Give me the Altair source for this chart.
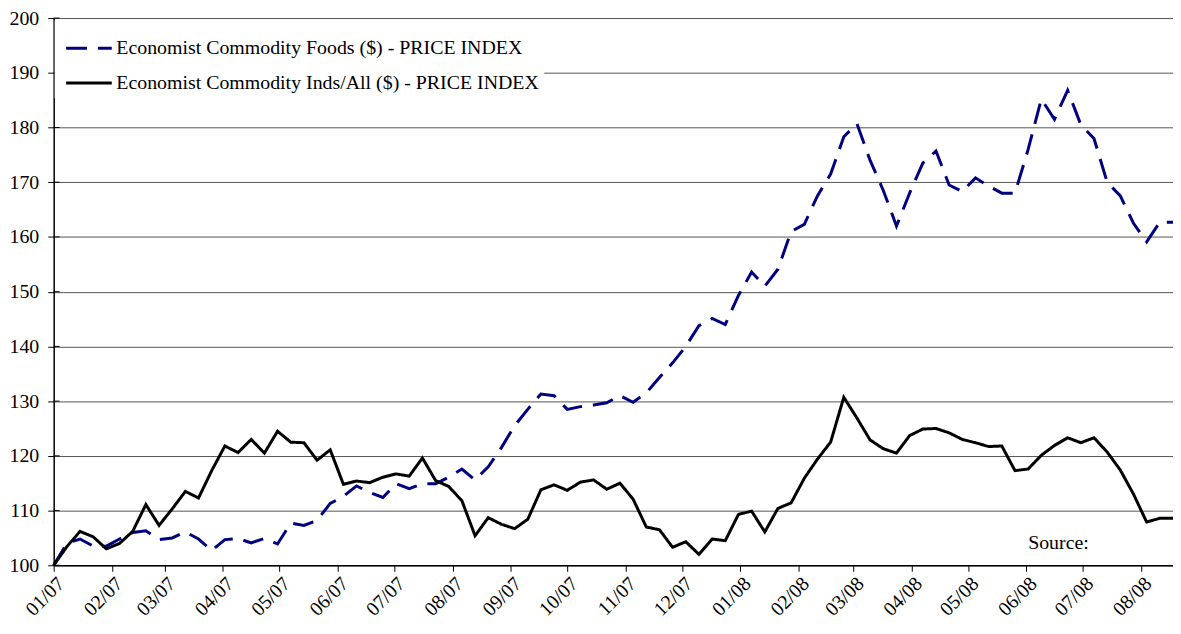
import altair as alt
import pandas as pd

# weekly observations (Mondays), Jan 2007 - Aug 2008
weeks = pd.date_range("2007-01-01", periods=86, freq="7D")

foods = [100.0, 104.0, 104.8, 103.5, 103.5, 104.8, 106.0, 106.3, 104.7, 105.0,
         106.1, 104.8, 102.7, 104.7, 104.9, 104.1, 104.9, 103.9, 107.7, 107.3,
         108.2, 111.3, 112.6, 114.5, 113.3, 112.4, 114.9, 114.0, 114.9, 114.9,
         116.1, 117.6, 115.6, 118.0, 121.5, 125.5, 128.5, 131.3, 131.0, 128.5,
         129.0, 129.3, 129.7, 131.0, 129.8, 131.5, 134.3, 137.0, 140.0, 143.8,
         145.1, 144.0, 149.3, 153.6, 151.0, 154.1, 161.0, 162.3, 167.5, 171.5,
         178.3, 180.7, 174.0, 168.5, 162.0, 168.0, 173.5, 175.7, 169.5, 168.3,
         170.8, 169.3, 168.0, 168.0, 176.0, 185.2, 181.5, 186.8, 180.5, 178.0,
         170.0, 167.5, 162.5, 159.1, 162.7, 162.7]

inds = [100.0, 103.4, 106.2, 105.2, 103.0, 104.0, 106.2, 111.1, 107.3, 110.3,
        113.5, 112.3, 117.3, 121.8, 120.6, 123.0, 120.5, 124.5, 122.5, 122.4,
        119.2, 121.1, 114.8, 115.4, 115.1, 116.1, 116.7, 116.3, 119.6, 115.5,
        114.4, 111.8, 105.4, 108.7, 107.5, 106.7, 108.4, 113.8, 114.7, 113.7,
        115.2, 115.6, 113.9, 115.0, 112.1, 107.0, 106.5, 103.3, 104.3, 102.0,
        104.8, 104.5, 109.3, 109.9, 106.1, 110.4, 111.4, 115.9, 119.4, 122.5,
        130.7, 126.9, 122.9, 121.3, 120.5, 123.7, 124.9, 125.0, 124.2, 123.0,
        122.4, 121.7, 121.8, 117.3, 117.6, 120.1, 121.9, 123.3, 122.4, 123.3,
        120.7, 117.4, 113.0, 107.9, 108.6, 108.6]

series_names = ["Economist Commodity Foods ($) - PRICE INDEX",
                "Economist Commodity Inds/All ($) - PRICE INDEX"]
series_colors = ["#000080", "#000000"]

month_ticks = pd.date_range("2007-01-01", "2008-08-01", freq="MS")
y_ticks = list(range(100, 201, 10))
x_domain = ["2007-01-01", "2008-08-18"]

source_text = ["Source:"]
source_date = ["2008-06-02"]
source_value = [104.1]

rows = []
for d, f, i in zip(weeks, foods, inds):
    ds = d.strftime("%Y-%m-%d")
    rows.append({"date": ds, "series": series_names[0], "value": f})
    rows.append({"date": ds, "series": series_names[1], "value": i})
df = pd.DataFrame(rows)

src = pd.DataFrame({"date": source_date, "value": source_value, "text": source_text})
ytick_df = pd.DataFrame({"value": y_ticks})

def ms(s):
    return int(pd.Timestamp(s).timestamp() * 1000)

tick_ms = [ms(t) for t in month_ticks]
dom_ms = [ms(t) for t in x_domain]

FONT = "Liberation Serif, Times New Roman, serif"

x_enc = alt.X(
    "date:T",
    scale=alt.Scale(type="utc", domain=dom_ms, nice=False),
    axis=alt.Axis(values=tick_ms, labelAngle=-45, grid=False, tickSize=6,
                  labelPadding=2, title=None, labelOverlap=False, labelFlush=False,
                  labelExpr="utcFormat(datum.value, '%m/%y')"),
)
y_scale = alt.Scale(domain=[100, 200], nice=False, zero=False)
y_enc = alt.Y(
    "value:Q",
    scale=y_scale,
    axis=alt.Axis(values=y_ticks, grid=True, gridColor="#555555", gridWidth=1,
                  tickSize=6, labelPadding=9, title=None),
)

legend = alt.Legend(
    title=None, orient="none", legendX=1, legendY=2, direction="vertical",
    fillColor="white", padding=4, symbolOffset=6, symbolType="stroke", symbolSize=2116,
    symbolStrokeWidth=3, labelFont=FONT, labelFontSize=20, labelColor="black",
    labelLimit=700, labelOffset=3, rowPadding=0, strokeColor="white",
)

lines = alt.Chart(df).mark_line(strokeWidth=3).encode(
    x=x_enc,
    y=y_enc,
    color=alt.Color("series:N", scale=alt.Scale(domain=series_names, range=series_colors),
                    legend=legend, sort=series_names),
    strokeDash=alt.StrokeDash("series:N",
                              scale=alt.Scale(domain=series_names, range=[[21, 11], [1, 0]]),
                              legend=legend, sort=series_names),
    detail="series:N",
)

# inner half of the cross-style y ticks
inner_ticks = alt.Chart(ytick_df).mark_rule(color="black", strokeWidth=1).encode(
    y=alt.Y("value:Q", scale=y_scale),
    x=alt.value(0), x2=alt.value(6),
)

text = alt.Chart(src).mark_text(align="left", baseline="middle", font=FONT,
                                fontSize=20, color="black").encode(
    x=alt.X("date:T"), y=alt.Y("value:Q"), text="text:N")

chart = alt.layer(inner_ticks, lines, text).properties(
    width=1127, height=551,
    autosize=alt.AutoSizeParams(type="none"),
    padding={"left": 46, "top": 8, "right": 0, "bottom": 60},
).configure_axis(
    labelFont=FONT, labelFontSize=20, labelColor="black",
    domainColor="black", tickColor="black", domainWidth=1.5,
).configure_view(strokeWidth=0)

chart.save("out.html", embed_options={"renderer": "svg", "actions": False})
